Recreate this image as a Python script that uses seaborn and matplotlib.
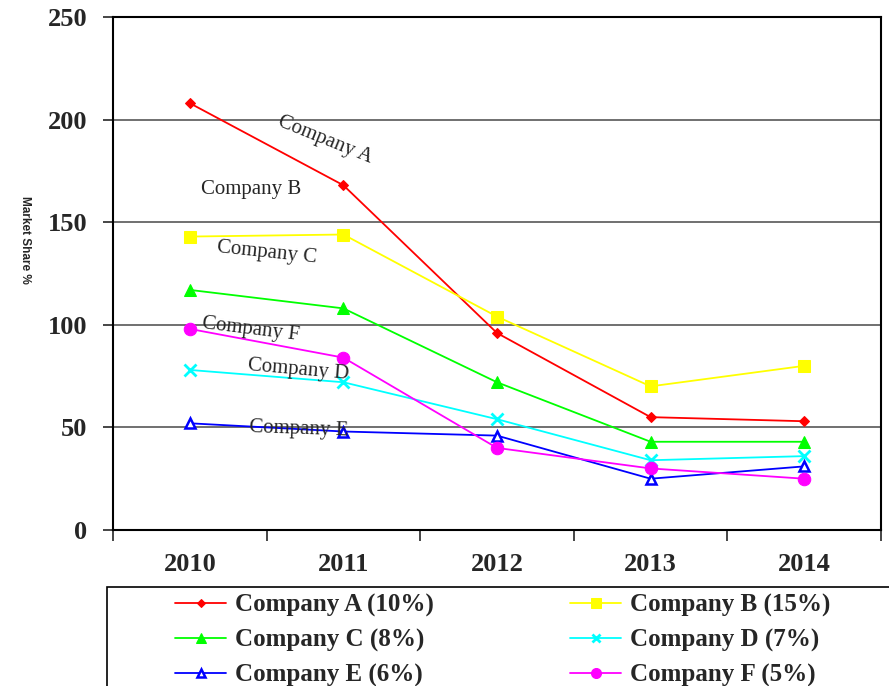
import numpy as np
import pandas as pd
import matplotlib
matplotlib.use("Agg")
import matplotlib.pyplot as plt
from matplotlib.patches import Rectangle
import seaborn as sns

years = ["2010", "2011", "2012", "2013", "2014"]
company_a = [208, 168, 96, 55, 53]
company_b = [143, 144, 104, 70, 80]
company_c = [117, 108, 72, 43, 43]
company_d = [78, 72, 54, 34, 36]
company_e = [52, 48, 46, 25, 31]
company_f = [98, 84, 40, 30, 25]
legend_labels = ["Company A (10%)", "Company B (15%)", "Company C (8%)",
                 "Company D (7%)", "Company E (6%)", "Company F (5%)"]
y_ticks = [0, 50, 100, 150, 200, 250]

series = [company_a, company_b, company_c, company_d, company_e, company_f]
colors = ["#ff0000", "#ffff00", "#00ff00", "#00ffff", "#0000ff", "#ff00ff"]
markers = ["D", "s", "^", "x", "^", "o"]
msizes = [5, 9, 9, 8, 7, 9]

sns.set_style("white")
plt.rcParams["font.family"] = ["Liberation Serif", "DejaVu Serif"]

fig = plt.figure(figsize=(8.89, 6.86), dpi=100)
ax = fig.add_axes([113 / 889, 1 - 530 / 686, (881 - 113) / 889, (530 - 17) / 686])

rows = []
for lab, vals in zip(legend_labels, series):
    for i, v in enumerate(vals):
        rows.append({"company": lab, "pos": i, "share": v})
df = pd.DataFrame(rows)

for k, lab in enumerate(legend_labels):
    sub = df[df["company"] == lab]
    kw = dict(marker=markers[k], markersize=msizes[k], color=colors[k],
              markeredgecolor=colors[k], linewidth=1.3)
    if k == 3:
        kw["markeredgewidth"] = 2
    if k == 4:
        kw["markerfacecolor"] = "white"
        kw["markeredgewidth"] = 1.8
    sns.lineplot(data=sub, x="pos", y="share", ax=ax, label=lab, **kw)

ax.set_xlim(-0.5, 4.5)
ax.set_ylim(0, 250)
ax.set_yticks(y_ticks)
ax.set_yticklabels([str(t) for t in y_ticks], fontsize=19, fontweight="bold")
ax.set_xticks(range(len(years)))
ax.set_xticklabels(years, fontsize=19, fontweight="bold")
ax.set_xticks(np.arange(-0.5, 5, 1), minor=True)
ax.tick_params(axis="x", which="major", length=0, pad=16.5)
ax.tick_params(axis="x", which="minor", length=8, width=1.2, direction="out", bottom=True)
ax.tick_params(axis="y", length=7, width=1.2, direction="out", left=True, pad=11.5)
ax.set_xlabel("")
ax.set_ylabel("")
for y in [50, 100, 150, 200]:
    ax.axhline(y, color="#707070", linewidth=1.4, zorder=0)
for s in ax.spines.values():
    s.set_color("black")
    s.set_linewidth(1.5)
ax.get_legend().remove()

# inline labels
notes = [("Company A", 0.88, 190, -22), ("Company B", 0.40, 166, 0),
         ("Company C", 0.50, 135, -6), ("Company F", 0.40, 97.5, -7),
         ("Company D", 0.71, 78, -5), ("Company E", 0.71, 49, -2)]
for txt, x, y, rot in notes:
    ax.text(x, y, txt, fontsize=15, rotation=rot, ha="center", va="center",
            rotation_mode="anchor")

fig.text(25 / 889, 1 - 240 / 686, "Market Share %", rotation=270, fontsize=8.5,
         fontweight="bold", family=["Liberation Sans", "DejaVu Sans"],
         ha="center", va="center")

fig.patches.append(Rectangle((107 / 889, -0.05), 0.9, 0.05 + (686 - 587) / 686,
                             transform=fig.transFigure, fill=False,
                             edgecolor="black", linewidth=1.2))
handles, labels = ax.get_legend_handles_labels()
order = [0, 2, 4, 1, 3, 5]
fig.legend([handles[i] for i in order], [labels[i] for i in order], ncol=2,
           loc="upper left", bbox_to_anchor=(175 / 889, 1 - 594 / 686),
           frameon=False, borderpad=0, borderaxespad=0, handlelength=2.05,
           handletextpad=0.36, columnspacing=5.43, labelspacing=0.46,
           prop={"weight": "bold", "size": 18}, markerscale=0.8)

fig.savefig("out.png", dpi=100)
